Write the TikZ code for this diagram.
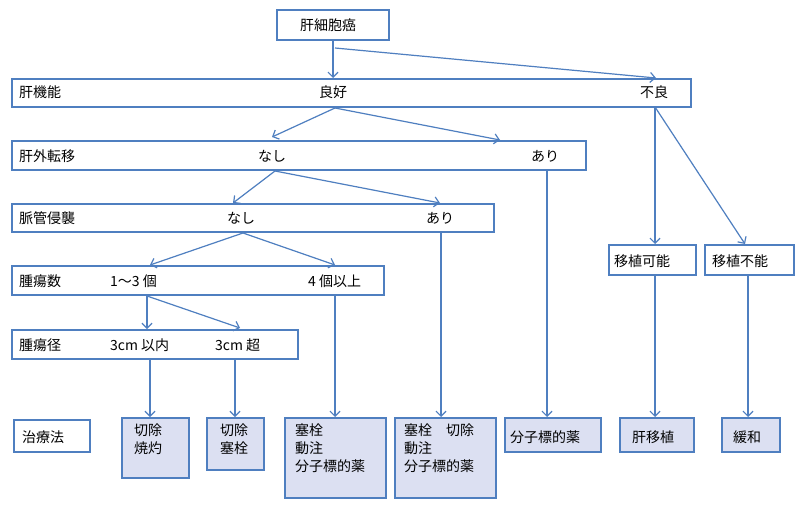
\documentclass[tikz,border=0pt]{standalone}
\usepackage{fontspec}
\setmainfont{Noto Sans CJK JP}
\usetikzlibrary{arrows.meta}
\definecolor{bd}{HTML}{4F7FC0}
\definecolor{fl}{HTML}{DCE0F2}
\begin{document}
\begin{tikzpicture}[x=1pt,y=-1pt,
  box/.style={draw=bd,line width=1.2pt},
  fbox/.style={draw=bd,line width=1.2pt,fill=fl},
  t/.style={inner sep=0pt,font=\fontsize{14}{18}\selectfont,anchor=base west},
  arr/.style={draw=bd,line width=1.2pt,-{Straight Barb[length=5pt,width=10pt]}}]
\useasboundingbox (0,0) rectangle (800,508);
\fill[white] (0,0) rectangle (800,508);
% row boxes
\draw[box] (277,10) rectangle (389,40);
\draw[box] (12,79) rectangle (691,107);
\draw[box] (12,141) rectangle (586,170);
\draw[box] (12,204) rectangle (494,232);
\draw[box] (12,266) rectangle (384,295);
\draw[box] (12,330) rectangle (298,359);
\draw[box] (609,245) rectangle (696,275);
\draw[box] (705,245) rectangle (794,275);
\draw[box] (14,420) rectangle (90,452);
\draw[fbox] (122,418) rectangle (189,478);
\draw[fbox] (207,418) rectangle (264,470);
\draw[fbox] (285,418) rectangle (386,498);
\draw[fbox] (395,418) rectangle (496,498);
\draw[fbox] (505,418) rectangle (601,452);
\draw[fbox] (620,418) rectangle (694,452);
\draw[fbox] (722,418) rectangle (780,452);
% texts
\node[t] (hcc) at (300,31) {肝細胞癌};
\node[t] (r1) at (19,98) {肝機能};
\node[t] (good) at (319,98) {良好};
\node[t] (bad) at (640,98) {不良};
\node[t] (r2) at (19,161) {肝外転移};
\node[t] (m0) at (258,161) {なし};
\node[t] (m1) at (531,161) {あり};
\node[t] (r3) at (19,223) {脈管侵襲};
\node[t] (v0) at (227,223) {なし};
\node[t] (v1) at (426,223) {あり};
\node[t] (r4) at (19,286) {腫瘍数};
\node[t] (n0) at (110,286) {1～3 個};
\node[t] (n1) at (308,286) {4 個以上};
\node[t] (r5) at (19,350) {腫瘍径};
\node[t] (s0) at (110,350) {3cm 以内};
\node[t] (s1) at (215,350) {3cm 超};
\node[t] (tx) at (614,266) {移植可能};
\node[t] (ntx) at (712,266) {移植不能};
\node[t] (th) at (22,442) {治療法};
\node[t,align=left,anchor=north west] (a) at (134,424) {切除\\焼灼};
\node[t,align=left,anchor=north west] (b) at (220,424) {切除\\塞栓};
\node[t,align=left,anchor=north west] (c) at (295,424) {塞栓\\動注\\分子標的薬};
\node[t,align=left,anchor=north west] (d) at (404,424) {塞栓\hspace{1em}切除\\動注\\分子標的薬};
\node[t] (e) at (510,442) {分子標的薬};
\node[t] (f) at (632,442) {肝移植};
\node[t] (g) at (733,442) {緩和};
% arrows
\draw[arr] (333,40) -- (333,78);
\draw[arr] (335,48) -- (656,78);
\draw[arr] (335,108) -- (272,137);
\draw[arr] (335,108) -- (500,140);
\draw[arr] (275,171) -- (233,203);
\draw[arr] (275,171) -- (440,203);
\draw[arr] (243,233) -- (150,265);
\draw[arr] (243,233) -- (335,265);
\draw[arr] (147,296) -- (147,329);
\draw[arr] (147,296) -- (240,328);
\draw[arr] (150,359) -- (150,417);
\draw[arr] (235,359) -- (235,417);
\draw[arr] (335,295) -- (335,417);
\draw[arr] (441,232) -- (441,417);
\draw[arr] (547,170) -- (547,417);
\draw[arr] (655,107) -- (655,244);
\draw[arr] (655,107) -- (745,244);
\draw[arr] (655,275) -- (655,417);
\draw[arr] (748,275) -- (748,417);
\end{tikzpicture}
\end{document}
